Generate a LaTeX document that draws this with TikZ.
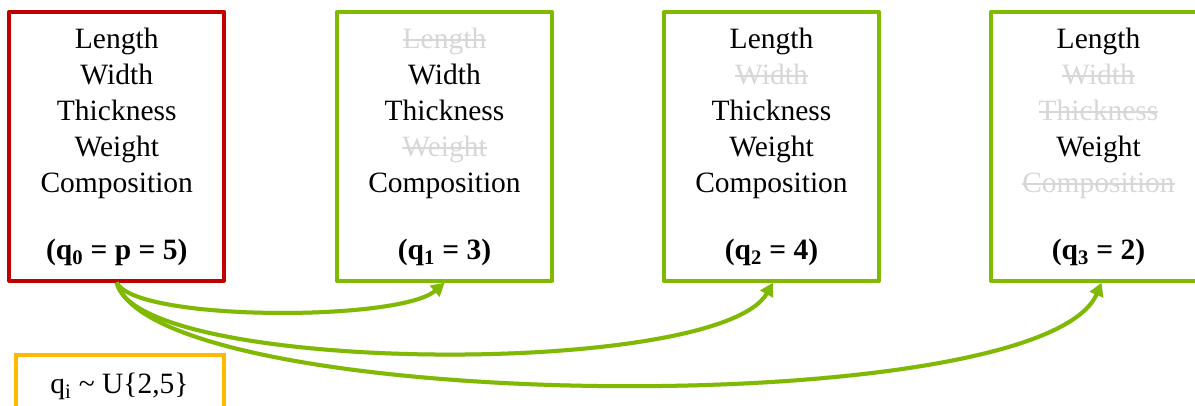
\documentclass[tikz,border=0pt]{standalone}
\usepackage{fontspec}
\setmainfont{Liberation Serif}
\newfontfamily\serifface{Liberation Serif}
\usetikzlibrary{arrows.meta}
\definecolor{boxred}{RGB}{192,0,0}
\definecolor{boxgreen}{RGB}{128,186,0}
\definecolor{boxorange}{RGB}{255,186,0}
\definecolor{strikegray}{RGB}{215,215,215}
\newcommand\strk[1]{{\color{strikegray}\sbox0{#1}\rlap{\usebox0}\rule[0.27em]{\wd0}{1.3pt}}}
\tikzset{
  framebox/.style={draw, line width=4pt, minimum width=215pt, minimum height=268.5pt, inner sep=0pt, line join=round},
  itemtext/.style={align=center, anchor=north, inner sep=0pt, font=\serifface\fontsize{29.5}{36}\selectfont},
  qlabel/.style={anchor=base, inner sep=0pt, font=\serifface\fontsize{29.5}{36}\selectfont\bfseries},
  conn/.style={draw=boxgreen, line width=4pt, -{Triangle[length=13pt,width=14pt]}},
  connshadow/.style={draw=black, opacity=0.15, line width=4pt, -{Triangle[length=13pt,width=14pt]}},
}
\begin{document}
\begin{tikzpicture}[x=1pt,y=-1pt]
\useasboundingbox (0,0) rectangle (1195,405);
% boxes
\node[framebox, draw=boxred] (b0) at (116.75,146.25) {};
\node[framebox, draw=boxgreen] (b1) at (444.5,146.5) {};
\node[framebox, draw=boxgreen] (b2) at (771.5,146.5) {};
\node[framebox, draw=none, outer sep=0pt] (b3) at (1098.5,146.5) {};
\draw[boxgreen, line width=4pt, line join=round] ([xshift=2pt]b3.north east) -- (b3.north west) -- (b3.south west) -- ([xshift=2pt]b3.south east);
% texts
\node[itemtext] (t0) at (116.75,28) {Length\\Width\\Thickness\\Weight\\Composition};
\node[itemtext] (t1) at (444.5,28) {\strk{Length}\\Width\\Thickness\\\strk{Weight}\\Composition};
\node[itemtext] (t2) at (771.5,28) {Length\\\strk{Width}\\Thickness\\Weight\\Composition};
\node[itemtext] (t3) at (1098.5,28) {Length\\\strk{Width}\\\strk{Thickness}\\Weight\\\strk{Composition}};
% labels
\node[qlabel] (l0) at (116.75,259) {(q\textsubscript{0} = p = 5)};
\node[qlabel] (l1) at (444.5,259) {(q\textsubscript{1} = 3)};
\node[qlabel] (l2) at (771.5,259) {(q\textsubscript{2} = 4)};
\node[qlabel] (l3) at (1098.5,259) {(q\textsubscript{3} = 2)};
% distribution box
\node[draw=boxorange, line width=4pt, minimum width=208pt, minimum height=80pt, inner sep=0pt] (dist) at (119.5,395) {};
\node[anchor=base, inner sep=0pt, font=\serifface\fontsize{29.5}{36}\selectfont] (dtext) at (119.5,393) {q\textsubscript{i} \textasciitilde{} U\{2,5\}};
% connector shadows
\begin{scope}[shift={(1.5,2.5)}]
\draw[connshadow] (b0.south) .. controls +(18,39) and +(-45,39) .. (b1.south);
\draw[connshadow] (b0.south) .. controls +(18,92) and +(-55,96) .. ([xshift=1.5pt]b2.south);
\draw[connshadow] (b0.south) .. controls +(38,131) and +(-60,141) .. ([xshift=3pt,yshift=-2pt]b3.south);
\end{scope}
% connectors
\draw[conn] (b0.south) .. controls +(18,39) and +(-45,39) .. (b1.south);
\draw[conn] (b0.south) .. controls +(18,92) and +(-55,96) .. ([xshift=1.5pt]b2.south);
\draw[conn] (b0.south) .. controls +(38,131) and +(-60,141) .. ([xshift=3pt,yshift=-2pt]b3.south);
\end{tikzpicture}
\end{document}
